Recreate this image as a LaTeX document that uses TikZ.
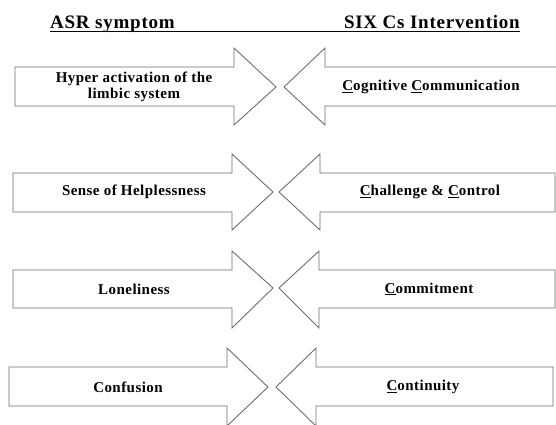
\documentclass[tikz,border=0pt]{standalone}
\usepackage{fontspec}
\usepackage{xcolor}
\setmainfont{Liberation Serif}
\newfontfamily\headfont{Liberation Serif}[LetterSpace=4]
\newfontfamily\boxfont{Liberation Serif}[LetterSpace=3]
\definecolor{arrowgray}{HTML}{6E6E6E}

\begin{document}
\begin{tikzpicture}[x=1pt, y=-1pt,
        arrowbox/.style={draw=arrowgray, line width=0.9pt, fill=white, line join=miter},
        head/.style={font=\headfont\bfseries\fontsize{19}{22}\selectfont, inner sep=0pt},
        lbl/.style={font=\boxfont\bfseries\fontsize{15}{16.5}\selectfont, align=center, inner sep=0pt}]
        \useasboundingbox (0, 0) rectangle (556, 424);

        % headings
        \node[head, anchor=base west] (asr) at (50, 28) {ASR symptom};
        \node[head, anchor=base east] (six) at (520, 28) {SIX Cs Intervention};
        \draw[line width=0.8pt] ([yshift=-3.5pt]asr.base west) -- ([yshift=-3.5pt]six.base east);

        % left arrows
        \draw[arrowbox] (15, 67) -- (234, 67) -- (234, 48) -- (276, 87)
            -- (234, 125) -- (234, 106) -- (15, 106) -- cycle;
        \draw[arrowbox] (13, 173) -- (232, 173) -- (232, 154) -- (273, 192)
            -- (232, 230) -- (232, 212) -- (13, 212) -- cycle;
        \draw[arrowbox] (13, 270) -- (232, 270) -- (232, 251) -- (273, 288)
            -- (232, 328) -- (232, 308) -- (13, 308) -- cycle;
        \draw[arrowbox] (9, 367) -- (227, 367) -- (227, 348) -- (268, 387)
            -- (227, 426) -- (227, 406) -- (9, 406) -- cycle;

        % right arrows
        \draw[arrowbox] (562, 67) -- (325, 67) -- (325, 48) -- (284, 87)
            -- (325, 125) -- (325, 106) -- (562, 106) -- cycle;
        \draw[arrowbox] (555, 173) -- (320, 173) -- (320, 154) -- (279, 192)
            -- (320, 230) -- (320, 212) -- (555, 212) -- cycle;
        \draw[arrowbox] (555, 270) -- (319, 270) -- (319, 251) -- (279, 288)
            -- (319, 328) -- (319, 308) -- (555, 308) -- cycle;
        \draw[arrowbox] (553, 367) -- (316, 367) -- (316, 348) -- (276, 387)
            -- (316, 426) -- (316, 406) -- (553, 406) -- cycle;

        % symptoms
        \node[lbl] (hyper) at (134, 87) {Hyper activation of the\\limbic system};
        \node[lbl] (help) at (134, 192) {Sense of Helplessness};
        \node[lbl] (lone) at (134, 289) {Loneliness};
        \node[lbl] (conf) at (128, 387) {Confusion};

        % interventions
        \node[lbl] (cogn) at (431, 87) {\underline{C}ognitive \underline{C}ommunication};
        \node[lbl] (chal) at (430, 192) {\underline{C}hallenge \& \underline{C}ontrol};
        \node[lbl] (comm) at (429, 289) {\underline{C}ommitment};
        \node[lbl] (cont) at (423, 387) {\underline{C}ontinuity};
\end{tikzpicture}
\end{document}
